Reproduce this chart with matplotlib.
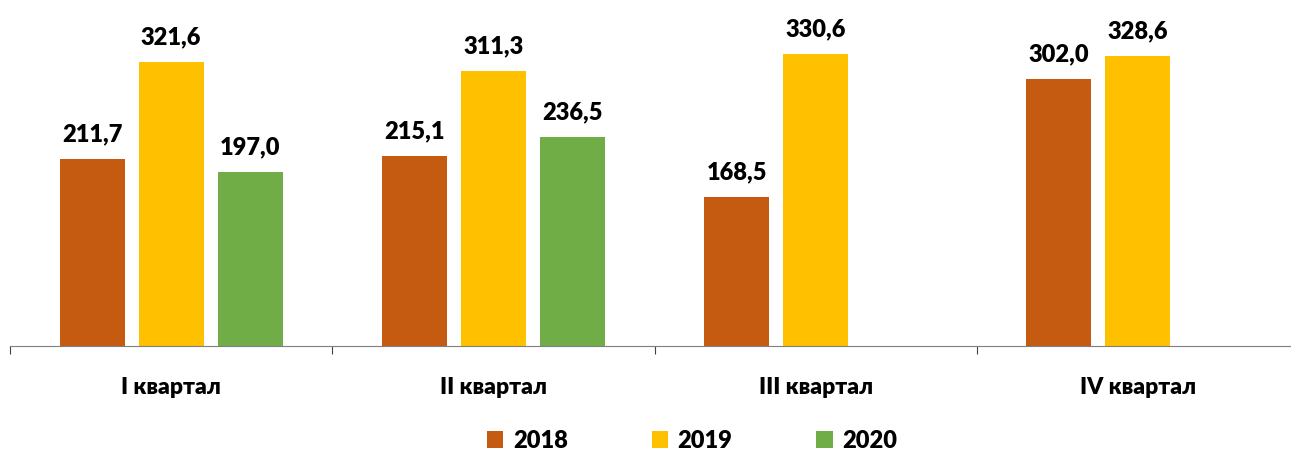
import matplotlib.pyplot as plt
import numpy as np

plt.rcParams['font.family'] = ['Lato', 'DejaVu Sans']

quarters = ['I квартал', 'II квартал', 'III квартал', 'IV квартал']
years = ['2018', '2019', '2020']
v2018 = [211.7, 215.1, 168.5, 302.0]
v2019 = [321.6, 311.3, 330.6, 328.6]
v2020 = [197.0, 236.5, None, None]
colors = ['#C55A11', '#FFC000', '#70AD47']

fig = plt.figure(figsize=(12.91, 4.53), dpi=100)
ax = fig.add_axes([10 / 1291, 1 - 346 / 453, 1289 / 1291, 346 / 453])

x = np.arange(len(quarters))
step = 0.245
width = 0.202
series = [v2018, v2019, v2020]
for i, (vals, col, yr) in enumerate(zip(series, colors, years)):
    xs = [xi + (i - 1) * step for xi, v in zip(x, vals) if v is not None]
    hs = [v for v in vals if v is not None]
    bars = ax.bar(xs, hs, width=width, color=col, label=yr)
    for b, h in zip(bars, hs):
        ax.annotate(f'{h:.1f}'.replace('.', ','), (b.get_x() + b.get_width() / 2, h),
                    xytext=(0, 10), textcoords='offset points', ha='center', va='bottom',
                    fontsize=17, fontweight='heavy', color='black')

ax.set_xlim(-0.5, 3.5)
ax.set_ylim(0, 392)
for s in ['top', 'right', 'left']:
    ax.spines[s].set_visible(False)
ax.spines['bottom'].set_color('#7f7f7f')
ax.set_yticks([])
ax.set_xticks(np.arange(-0.5, 4, 1))
ax.set_xticklabels([])
ax.tick_params(axis='x', which='major', length=6, direction='out', color='#404040')
ax.set_xticks(x, minor=True)
ax.set_xticklabels(quarters, minor=True, fontsize=16.5, fontweight='heavy')
ax.tick_params(axis='x', which='minor', length=0, pad=22)

fig.legend(loc='center', bbox_to_anchor=(692 / 1291, 1 - 441 / 453), ncol=3, frameon=False,
           prop={'size': 17, 'weight': 'heavy'}, handlelength=0.7, handleheight=0.7,
           handletextpad=0.4, columnspacing=3.55)

fig.savefig('out.png', dpi=100)
